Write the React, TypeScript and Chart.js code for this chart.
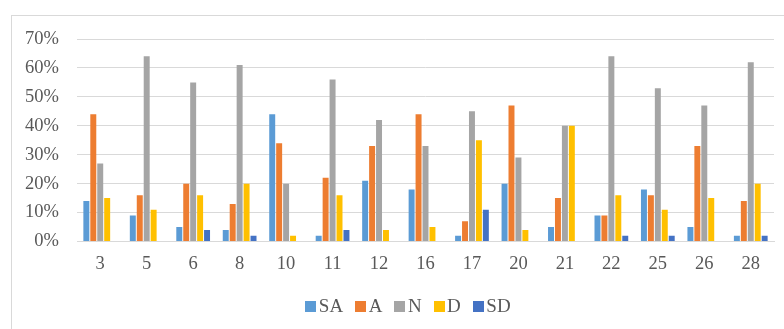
import React, { useEffect, useRef } from "react";
import { Chart, registerables } from "chart.js";

Chart.register(...registerables);

// Item numbers along the x axis
const items = ["3", "5", "6", "8", "10", "11", "12", "16", "17", "20", "21", "22", "25", "26", "28"];

// Share of responses per item (%)
const sa = [14, 9, 5, 4, 44, 2, 21, 18, 2, 20, 5, 9, 18, 5, 2];
const a = [44, 16, 20, 13, 34, 22, 33, 44, 7, 47, 15, 9, 16, 33, 14];
const n = [27, 64, 55, 61, 20, 56, 42, 33, 45, 29, 40, 64, 53, 47, 62];
const d = [15, 11, 16, 20, 2, 16, 4, 5, 35, 4, 40, 16, 11, 15, 20];
const sd = [0, 0, 4, 2, 0, 4, 0, 0, 11, 0, 0, 2, 2, 0, 2];

const seriesNames = ["SA", "A", "N", "D", "SD"];
const seriesColors = ["#5B9BD5", "#ED7D31", "#A5A5A5", "#FFC000", "#4472C4"];
const seriesValues = [sa, a, n, d, sd];

const yMax = 70;
const yStep = 10;

const FONT = "'Liberation Serif', 'Times New Roman', serif";
const TEXT = "#595959";
const GRID = "#D9D9D9";

// Thin frame around the whole chart
const framePlugin = {
  id: "frame",
  beforeDraw(chart: any) {
    const ctx = chart.ctx;
    ctx.save();
    ctx.fillStyle = "#ffffff";
    ctx.fillRect(0, 0, chart.width, chart.height);
    ctx.strokeStyle = GRID;
    ctx.lineWidth = 1;
    ctx.strokeRect(11.5, 15.5, 1000, 1000);
    ctx.restore();
  },
};

export default function App() {
  const canvasRef = useRef<HTMLCanvasElement | null>(null);

  useEffect(() => {
    if (!canvasRef.current) return;
    const chart = new Chart(canvasRef.current, {
      type: "bar",
      data: {
        labels: items,
        datasets: seriesNames.map((name, i) => ({
          label: name,
          data: seriesValues[i],
          backgroundColor: seriesColors[i],
          borderWidth: 0,
          barPercentage: 0.86,
          categoryPercentage: 0.747,
        })),
      },
      options: {
        responsive: false,
        animation: false,
        layout: { padding: { left: 0, right: 10, top: 39, bottom: 0 } },
        plugins: {
          legend: { display: false },
          tooltip: { enabled: false },
        },
        scales: {
          x: {
            grid: { display: false, drawTicks: false },
            border: { display: true, color: GRID, width: 1 },
            ticks: {
              color: TEXT,
              font: { family: FONT, size: 18.5 },
              padding: 12,
              maxRotation: 0,
            },
            afterFit(scale: any) {
              scale.height = 329 - 241.5;
            },
          },
          y: {
            min: 0,
            max: yMax,
            grid: { color: GRID, lineWidth: 1, drawTicks: false },
            border: { display: false },
            ticks: {
              stepSize: yStep,
              color: TEXT,
              font: { family: FONT, size: 18.5 },
              padding: 18,
              callback: (v: any) => `${v}%`,
            },
            afterFit(scale: any) {
              scale.width = 77;
            },
          },
        },
      },
      plugins: [framePlugin],
    });
    return () => chart.destroy();
  }, []);

  return (
    <div style={{ position: "absolute", left: 0, top: 0, width: 784, height: 329, overflow: "hidden", background: "#fff" }}>
      <canvas ref={canvasRef} width={784} height={329} style={{ width: 784, height: 329, display: "block" }} />
      <div
        style={{
          position: "absolute",
          left: 11,
          width: 794,
          top: 295,
          display: "flex",
          justifyContent: "center",
          alignItems: "center",
          fontFamily: FONT,
          fontSize: 19,
          color: TEXT,
          lineHeight: "22px",
        }}
      >
        {seriesNames.map((name, i) => (
          <div key={name} style={{ display: "flex", alignItems: "center", marginRight: i < seriesNames.length - 1 ? 12 : 0 }}>
            <span style={{ display: "inline-block", width: 11, height: 11, background: seriesColors[i], marginRight: 2.5 }} />
            <span>{name}</span>
          </div>
        ))}
      </div>
    </div>
  );
}
